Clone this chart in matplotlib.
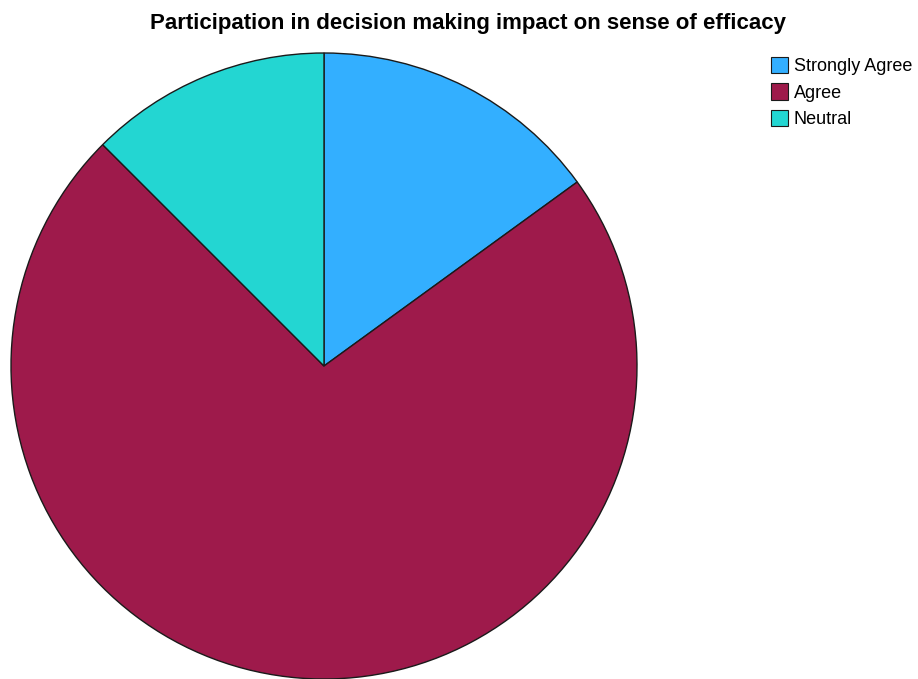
import matplotlib.pyplot as plt
from matplotlib.patches import Patch

# Survey responses
labels = ['Strongly Agree', 'Agree', 'Neutral']
counts = [6, 29, 5]
colors = ['#33afff', '#9e1a4b', '#23d6d2']

W, H = 918, 679
fig = plt.figure(figsize=(W / 100, H / 100), dpi=100)
plt.rcParams['font.family'] = ['Liberation Sans', 'DejaVu Sans']

# pie area in pixel units: centre (324, 366), radius 313
cx, cy, r = 324, 366, 313
ax = fig.add_axes([(cx - r) / W, (H - cy - r) / H, 2 * r / W, 2 * r / H])
ax.pie(counts, colors=colors, startangle=90, counterclock=False,
       wedgeprops=dict(edgecolor='#1a1a1a', linewidth=1.0))
ax.set_xlim(-1, 1)
ax.set_ylim(-1, 1)
ax.set_aspect('equal')
ax.axis('off')

fig.text(468 / W, 1 - 24 / H, 'Participation in decision making impact on sense of efficacy',
         ha='center', va='center', fontsize=16, fontweight='bold')

handles = [Patch(facecolor=c, edgecolor='#1a1a1a', linewidth=0.8) for c in colors]
fig.legend(handles, labels, loc='upper left', bbox_to_anchor=(771 / W, 1 - 57 / H),
           frameon=False, fontsize=13, handlelength=0.95, handleheight=1.0,
           handletextpad=0.3, labelspacing=0.45, borderpad=0, borderaxespad=0)

fig.savefig('out.png', dpi=100)
